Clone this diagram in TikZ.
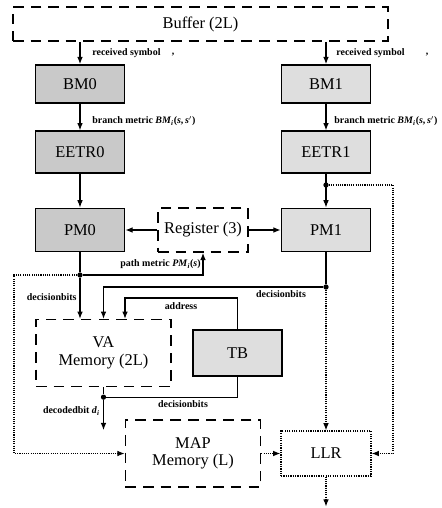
\documentclass[tikz,border=0pt]{standalone}
\usepackage{fontspec}
\setmainfont{Liberation Serif}
\usetikzlibrary{arrows.meta, positioning, calc}
\tikzset{
	unit/.style={rectangle, draw, line width=1.4pt, align=center, font=\fontsize{14}{15}\selectfont, minimum width=2.67cm, minimum height=1.25cm},
	darkunit/.style={unit, fill=gray!42},
	lightunit/.style={unit, fill=gray!26},
	memory/.style={rectangle, draw, line width=1.4pt, dash pattern=on 9pt off 6pt, align=center, font=\fontsize{14}{15}\selectfont, minimum width=4.05cm, minimum height=2.0cm},
	conn/.style={line width=0.9pt},
	arr/.style={conn, -{Latex[length=2.2mm, width=1.7mm]}},
	darr/.style={arr, densely dotted},
	lbl/.style={font=\fontsize{8.5}{9}\selectfont\bfseries, inner sep=1pt},
	junc/.style={circle, fill, inner sep=0pt, minimum size=4.5pt}
}

\begin{document}
\begin{tikzpicture}[x=0.03cm, y=-0.03cm]
	\useasboundingbox (0,0) rectangle (441,508);

	\node[memory, minimum width=11.25cm, minimum height=1.02cm] (buffer) at (200.5,24) {Buffer (2L)};
	\node[darkunit, minimum height=1.14cm] (bm0) at (80,84) {BM0};
	\node[lightunit, minimum height=1.14cm] (bm1) at (326,84) {BM1};
	\node[darkunit] (eetr0) at (80,152) {EETR0};
	\node[lightunit] (eetr1) at (326,152) {EETR1};
	\node[darkunit, minimum height=1.3cm] (pm0) at (80,230) {PM0};
	\node[lightunit, minimum height=1.3cm] (pm1) at (326,230) {PM1};
	\node[memory, minimum width=2.7cm, minimum height=1.32cm] (reg) at (203,230) {Register (3)};
	\node[lightunit, minimum height=1.38cm] (tb) at (237.5,353) {TB};
	\node[memory] (va) at (103.5,353) {VA\\Memory (2L)};
	\node[memory] (map) at (193,453.5) {MAP\\Memory (L)};
	\node[unit, line width=1pt, densely dotted, minimum width=2.7cm, minimum height=1.35cm] (llr) at (326,453.5) {LLR};

	% junctions and bends
	\node[junc] (j0) at (80,275) {};
	\node[junc] (j1) at (326,185) {};
	\node[junc] (j2) at (326,287) {};
	\node[junc] (j3) at ($(va.south)+(0,10)$) {};
	\coordinate (tbbend) at (125,298);
	\coordinate (lft) at (14,275);
	\coordinate (rgt) at (393,185);
	\coordinate (dout) at ($(j3)+(0,33)$);
	\coordinate (llrout) at ($(llr.south)+(0,30)$);

	\draw[arr] (buffer.south -| bm0) -- (bm0.north);
	\draw[arr] (buffer.south -| bm1) -- (bm1.north);
	\draw[arr] (bm0) -- (eetr0);
	\draw[arr] (bm1) -- (eetr1);
	\draw[arr] (eetr0) -- (pm0);
	\draw[arr] (eetr1) -- (pm1);
	\draw[arr] (reg) -- (pm0);
	\draw[arr] (reg) -- (pm1);

	\draw[conn] (pm0) -- (j0);
	\draw[arr] (j0) -- (va.north -| j0);
	\draw[arr] (j0) -| (reg.south);
	\draw[conn] (pm1) -- (j2);
	\draw[arr] (j2) -| (va.north);
	\draw[arr] (tb.north) |- (tbbend) -- (tbbend |- va.north);
	\draw[conn] (va.south) -- (j3);
	\draw[conn] (tb.south) |- (j3);
	\draw[arr] (j3) -- (dout);

	\draw[darr] (j0) -- (lft) |- (map.west);
	\draw[darr] (map) -- (llr);
	\draw[darr] (j2) -- (llr.north);
	\draw[darr] (j1) -- (rgt) |- (llr.east);
	\draw[darr] (llr) -- (llrout);

	% labels
	\node[lbl, anchor=west] (rs0) at (91,53) {received symbol};
	\node[lbl] (rc0) at (173,55) {,};
	\node[lbl, anchor=west] (rs1) at (335,53) {received symbol};
	\node[lbl] (rc1) at (427,55) {,};
	\node[lbl, anchor=west] (br0) at (91,121) {branch metric \textit{BM}\textsubscript{\textit{i}}(\textit{s},\,\textit{s}$'$)};
	\node[lbl, anchor=west] (br1) at (333,121) {branch metric \textit{BM}\textsubscript{\textit{i}}(\textit{s},\,\textit{s}$'$)};
	\node[lbl, anchor=south east] (pmet) at (202,270) {path metric \textit{PM}\textsubscript{\textit{i}}(\textit{s})};
	\node[lbl, anchor=east] (db0) at (78,297) {decisionbits};
	\node[lbl, anchor=north] (db1) at (281,289) {decisionbits};
	\node[lbl] (addr) at (181,306) {address};
	\node[lbl, anchor=east] (dec) at (101,411) {decodedbit \textit{d}\textsubscript{\textit{i}}};
	\node[lbl, anchor=north] (db2) at (183,399) {decisionbits};
\end{tikzpicture}
\end{document}
